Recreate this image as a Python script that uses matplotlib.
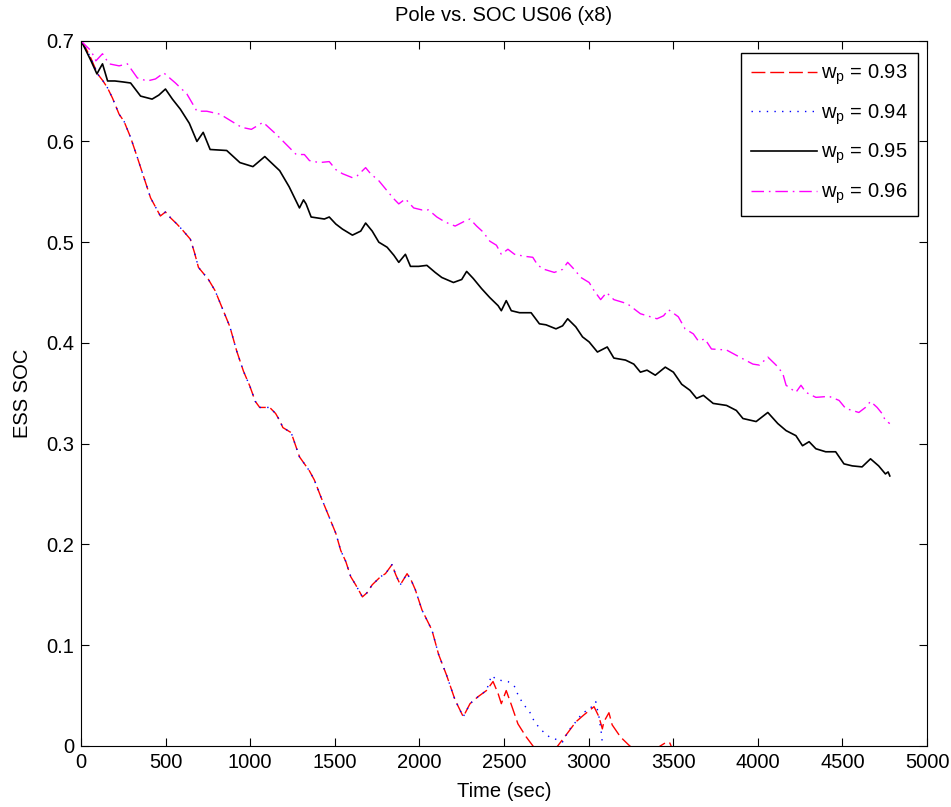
import numpy as np
import matplotlib.pyplot as plt

plt.rcParams['font.family'] = ['Liberation Sans', 'DejaVu Sans']
plt.rcParams['mathtext.fontset'] = 'custom'
plt.rcParams['mathtext.rm'] = 'Liberation Sans'
plt.rcParams['mathtext.it'] = 'Liberation Sans'

# shared start of the 0.93 / 0.94 runs (they lie on top of each other)
t_low = [0, 30, 60, 98, 130, 157, 186, 225, 254, 293, 333, 372, 411, 440, 469,
         499, 530, 567, 600, 646, 670, 694, 753, 792, 841, 880, 920, 960, 998,
         1030, 1056, 1115, 1150, 1174, 1193, 1242, 1291, 1350, 1379, 1418, 1467,
         1506, 1535, 1565, 1594, 1623, 1663, 1690, 1721, 1770, 1799, 1838, 1860,
         1887, 1927, 1950, 1976, 2015, 2074, 2113, 2161, 2210, 2259, 2299, 2347,
         2396]
soc_low = [0.700, 0.692, 0.682, 0.667, 0.660, 0.653, 0.643, 0.627, 0.620, 0.604,
           0.584, 0.564, 0.544, 0.535, 0.526, 0.530, 0.524, 0.518, 0.512, 0.503,
           0.490, 0.475, 0.463, 0.452, 0.432, 0.416, 0.392, 0.372, 0.357, 0.342,
           0.336, 0.336, 0.330, 0.323, 0.316, 0.311, 0.287, 0.273, 0.264, 0.247,
           0.227, 0.211, 0.194, 0.183, 0.168, 0.160, 0.148, 0.152, 0.160, 0.168,
           0.171, 0.180, 0.170, 0.160, 0.171, 0.165, 0.155, 0.135, 0.115, 0.091,
           0.070, 0.046, 0.029, 0.042, 0.049, 0.055]

t_93_tail = [2435, 2465, 2484, 2513, 2543, 2582, 2631, 2680, 2740, 2790, 2817,
             2876, 2925, 2973, 3032, 3061, 3081, 3090, 3120, 3139, 3188, 3237,
             3300, 3380, 3423, 3462, 3480, 3500, 3600, 4000, 4780]
soc_93_tail = [0.064, 0.052, 0.042, 0.055, 0.041, 0.022, 0.009, -0.002, -0.010,
               -0.005, 0.000, 0.013, 0.024, 0.031, 0.039, 0.029, 0.017, 0.024,
               0.033, 0.021, 0.009, 0.001, -0.008, -0.005, 0.000, 0.004, 0.003,
               -0.005, -0.02, -0.05, -0.10]

t_94_tail = [2426, 2455, 2484, 2523, 2562, 2582, 2612, 2651, 2680, 2719, 2768,
             2817, 2846, 2885, 2934, 2964, 3003, 3042, 3061, 3075, 3081, 3100,
             3300, 4000, 4780]
soc_94_tail = [0.070, 0.066, 0.065, 0.064, 0.059, 0.051, 0.042, 0.034, 0.024,
               0.016, 0.009, 0.006, 0.004, 0.016, 0.026, 0.033, 0.036, 0.044,
               0.029, 0.013, 0.003, -0.010, -0.03, -0.06, -0.10]

t_95 = [0, 30, 59, 94, 110, 127, 157, 200, 250, 293, 352, 420, 460, 499, 540,
        587, 640, 685, 722, 763, 861, 939, 1016, 1086, 1130, 1174, 1230, 1291,
        1315, 1330, 1360, 1438, 1467, 1506, 1545, 1604, 1653, 1682, 1721, 1760,
        1809, 1849, 1878, 1917, 1947, 1995, 2044, 2093, 2132, 2201, 2250, 2279,
        2318, 2367, 2416, 2465, 2484, 2513, 2543, 2592, 2660, 2709, 2748, 2807,
        2846, 2876, 2924, 2964, 3003, 3052, 3110, 3149, 3218, 3267, 3306, 3345,
        3394, 3453, 3501, 3550, 3599, 3638, 3678, 3736, 3815, 3873, 3912, 3990,
        4059, 4118, 4167, 4225, 4264, 4303, 4343, 4401, 4460, 4509, 4558, 4616,
        4666, 4714, 4754, 4770, 4780]
soc_95 = [0.700, 0.690, 0.680, 0.667, 0.672, 0.677, 0.660, 0.660, 0.659, 0.658,
          0.645, 0.642, 0.646, 0.652, 0.642, 0.632, 0.618, 0.600, 0.609, 0.592,
          0.591, 0.579, 0.575, 0.585, 0.578, 0.571, 0.555, 0.534, 0.542, 0.538,
          0.525, 0.523, 0.525, 0.518, 0.513, 0.507, 0.511, 0.519, 0.511, 0.500,
          0.495, 0.487, 0.480, 0.488, 0.476, 0.476, 0.477, 0.470, 0.465, 0.460,
          0.463, 0.471, 0.464, 0.454, 0.445, 0.437, 0.432, 0.442, 0.432, 0.430,
          0.430, 0.419, 0.418, 0.414, 0.417, 0.424, 0.416, 0.406, 0.401, 0.391,
          0.396, 0.385, 0.383, 0.379, 0.371, 0.373, 0.368, 0.376, 0.371, 0.359,
          0.353, 0.345, 0.348, 0.340, 0.338, 0.333, 0.325, 0.322, 0.331, 0.320,
          0.313, 0.308, 0.298, 0.302, 0.295, 0.292, 0.292, 0.280, 0.278, 0.277,
          0.285, 0.278, 0.270, 0.272, 0.268]

t_96 = [0, 10, 59, 88, 127, 166, 225, 274, 333, 391, 440, 489, 558, 626, 685,
        743, 822, 890, 949, 1007, 1076, 1154, 1213, 1272, 1320, 1350, 1408, 1467,
        1506, 1545, 1604, 1633, 1682, 1711, 1760, 1809, 1849, 1878, 1917, 1966,
        2015, 2054, 2103, 2152, 2211, 2269, 2299, 2338, 2377, 2416, 2455, 2484,
        2523, 2562, 2621, 2670, 2700, 2739, 2797, 2846, 2876, 2915, 2954, 3003,
        3032, 3071, 3106, 3149, 3228, 3306, 3404, 3443, 3472, 3530, 3570, 3619,
        3648, 3687, 3726, 3815, 3892, 3971, 4010, 4059, 4108, 4147, 4167, 4225,
        4255, 4284, 4343, 4421, 4480, 4519, 4597, 4636, 4666, 4705, 4734, 4754,
        4780]
soc_96 = [0.700, 0.698, 0.690, 0.680, 0.687, 0.677, 0.675, 0.677, 0.663, 0.660,
          0.662, 0.668, 0.658, 0.647, 0.630, 0.630, 0.627, 0.620, 0.614, 0.612,
          0.619, 0.607, 0.597, 0.587, 0.587, 0.581, 0.579, 0.580, 0.572, 0.568,
          0.564, 0.566, 0.574, 0.568, 0.561, 0.551, 0.543, 0.538, 0.543, 0.534,
          0.532, 0.532, 0.525, 0.520, 0.516, 0.521, 0.523, 0.516, 0.510, 0.501,
          0.497, 0.488, 0.493, 0.488, 0.486, 0.485, 0.477, 0.473, 0.470, 0.473,
          0.480, 0.473, 0.465, 0.460, 0.452, 0.443, 0.450, 0.443, 0.439, 0.429,
          0.424, 0.427, 0.433, 0.426, 0.414, 0.409, 0.402, 0.404, 0.394, 0.393,
          0.386, 0.379, 0.378, 0.386, 0.378, 0.370, 0.358, 0.351, 0.358, 0.351,
          0.346, 0.347, 0.343, 0.335, 0.331, 0.336, 0.342, 0.336, 0.330, 0.323,
          0.320]

t_93 = np.array(t_low + t_93_tail)
soc_93 = np.array(soc_low + soc_93_tail)
t_94 = np.array(t_low + t_94_tail)
soc_94 = np.array(soc_low + soc_94_tail)

fs = 14.5

fig = plt.figure(figsize=(9.51, 8.07), dpi=100)
ax = fig.add_axes([0.0852, 0.0756, 0.8896, 0.874])

ax.plot(t_93, soc_93, color='#ff0000', lw=1.0, dashes=(10, 3.5),
        label=r'w$_\mathregular{p}$ = 0.93')
ax.plot(t_94, soc_94, color='#0000ff', lw=1.0, dashes=(1, 4.5),
        label=r'w$_\mathregular{p}$ = 0.94')
ax.plot(t_95, soc_95, color='black', lw=1.2, label=r'w$_\mathregular{p}$ = 0.95')
ax.plot(t_96, soc_96, color='#ff00ff', lw=1.0, dashes=(9, 3.5, 1.2, 3.5),
        label=r'w$_\mathregular{p}$ = 0.96')

ax.set_xlim(0, 5000)
ax.set_ylim(0, 0.7)
ax.set_xticks(np.arange(0, 5001, 500))
ax.set_yticks(np.arange(0, 0.71, 0.1))
ax.set_yticklabels(['0', '0.1', '0.2', '0.3', '0.4', '0.5', '0.6', '0.7'])
ax.tick_params(direction='in', top=True, right=True, labelsize=fs, length=6,
               pad=5)

ax.set_title('Pole vs. SOC US06 (x8)', fontsize=fs, pad=14)
ax.set_xlabel('Time (sec)', fontsize=fs, labelpad=7.5)
ax.set_ylabel('ESS SOC', fontsize=fs, labelpad=10)

leg = ax.legend(loc='upper right', bbox_to_anchor=(0.9894, 0.983),
                fontsize=fs, handlelength=3.3, labelspacing=0.75,
                fancybox=False, framealpha=1, borderaxespad=0,
                handletextpad=0.2, borderpad=0.5)
leg.get_frame().set_edgecolor('black')
leg.get_frame().set_linewidth(1.0)

fig.savefig('out.png', dpi=100)
